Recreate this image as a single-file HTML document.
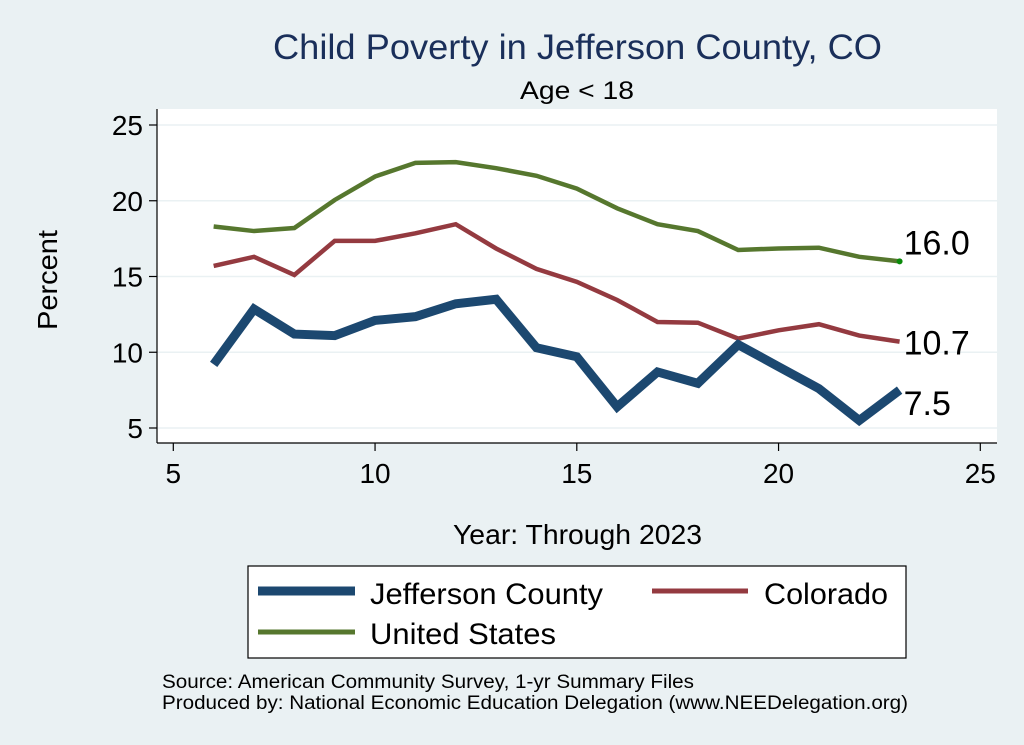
<!DOCTYPE html>
<html><head><meta charset="utf-8"><style>
body{margin:0;background:#eaf1f3;}
svg{display:block;font-family:"Liberation Sans",sans-serif;}
</style></head><body>
<svg width="1024" height="745" viewBox="0 0 1024 745">
<rect x="0" y="0" width="1024" height="745" fill="#eaf1f3"/>
<text x="273" y="59" font-size="35" textLength="609" lengthAdjust="spacingAndGlyphs" fill="#1a2f5a">Child Poverty in Jefferson County, CO</text>
<text x="520" y="99" font-size="25" textLength="114" lengthAdjust="spacingAndGlyphs" fill="#000">Age &lt; 18</text>
<rect x="157" y="109" width="840" height="334" fill="#fff"/>
<g id="grid"></g>
<g id="axes"></g>
<g id="series"></g>
<text transform="translate(57,280) rotate(-90)" text-anchor="middle" font-size="28" textLength="100" lengthAdjust="spacingAndGlyphs">Percent</text>
<text x="453" y="544" font-size="28" textLength="249" lengthAdjust="spacingAndGlyphs">Year: Through 2023</text>
<g>
<rect x="248" y="566" width="658" height="92" fill="#fff" stroke="#000" stroke-width="1.2"/>
<line x1="258" y1="591" x2="355" y2="591" stroke="#1c4870" stroke-width="9"/>
<text x="370" y="604" font-size="30" textLength="233" lengthAdjust="spacingAndGlyphs">Jefferson County</text>
<line x1="652" y1="591" x2="748" y2="591" stroke="#943a40" stroke-width="5"/>
<text x="764" y="604" font-size="30" textLength="124" lengthAdjust="spacingAndGlyphs">Colorado</text>
<line x1="258" y1="632" x2="355" y2="632" stroke="#56772e" stroke-width="5"/>
<text x="370" y="644" font-size="30" textLength="186" lengthAdjust="spacingAndGlyphs">United States</text>
</g>
<text x="162" y="688" font-size="19" textLength="532" lengthAdjust="spacingAndGlyphs">Source: American Community Survey, 1-yr Summary Files</text>
<text x="162" y="709" font-size="19" textLength="746" lengthAdjust="spacingAndGlyphs">Produced by: National Economic Education Delegation (www.NEEDelegation.org)</text>
</svg>
<script>
const years=[6,7,8,9,10,11,12,13,14,15,16,17,18,19,20,21,22,23];
const jefferson=[9.2,12.85,11.2,11.1,12.1,12.35,13.2,13.5,10.3,9.7,6.4,8.7,7.95,10.5,9.05,7.6,5.5,7.5];
const colorado=[15.7,16.3,15.1,17.35,17.35,17.85,18.45,16.85,15.5,14.65,13.45,12.0,11.95,10.9,11.45,11.85,11.1,10.7];
const unitedStates=[18.3,18.0,18.2,20.05,21.6,22.5,22.55,22.15,21.65,20.8,19.5,18.45,18.0,16.75,16.85,16.9,16.3,16.0];
const xTicks=[5,10,15,20,25];
const yTicks=[5,10,15,20,25];
const endLabels=["7.5","10.7","16.0"];
const NS="http://www.w3.org/2000/svg";
function X(v){return 173.3+(v-5)*40.35;}
function Y(v){return 428-(v-5)*15.15;}
function mk(tag,attrs,parent){const e=document.createElementNS(NS,tag);for(const k in attrs)e.setAttribute(k,attrs[k]);document.getElementById(parent).appendChild(e);return e;}
yTicks.forEach(t=>{
 const g=mk('line',{x1:157,x2:997,y1:Y(t),y2:Y(t),stroke:'#eaf1f3','stroke-width':1.5},'grid');
 
 
 const tk=mk('line',{x1:149,x2:157,y1:Y(t),y2:Y(t),stroke:'#000','stroke-width':1.2},'axes');
 
 
 const lb=mk('text',{x:143,y:Y(t)+10,'text-anchor':'end','font-size':28},'axes');
 lb.textContent=t;
 
 
});
xTicks.forEach(t=>{
 const tk=mk('line',{x1:X(t),x2:X(t),y1:443,y2:451,stroke:'#000','stroke-width':1.2},'axes');
 
 
 const lb=mk('text',{x:X(t),y:483,'text-anchor':'middle','font-size':28},'axes');
 lb.textContent=t;
 
 
});
const ya=mk('line',{x1:157,x2:157,y1:109,y2:443,stroke:'#000','stroke-width':1.2},'axes');


const xa=mk('line',{x1:157,x2:997,y1:443,y2:443,stroke:'#000','stroke-width':1.2},'axes');


const series=[[unitedStates,'#56772e',4.5,'us-line'],[colorado,'#943a40',4.5,'colorado-line'],[jefferson,'#1c4870',9,'jefferson-line']];
series.forEach(s=>{
 const p=mk('polyline',{points:years.map((y,i)=>X(y)+','+Y(s[0][i])).join(' '),fill:'none',stroke:s[1],'stroke-width':s[2],'stroke-linejoin':'miter'},'series');
 
 
});
const dot=mk('circle',{cx:X(years[years.length-1]),cy:Y(unitedStates[unitedStates.length-1]),r:3,fill:'#0a8a0a'},'series');


const last=years.length-1;
[[jefferson,endLabels[0],25],[colorado,endLabels[1],13],[unitedStates,endLabels[2],-7]].forEach((a,i)=>{
 const t=mk('text',{x:X(years[last])+4,y:Y(a[0][last])+a[2],'font-size':34},'series');
 t.textContent=a[1];
 
 
});
</script>
</body></html>
